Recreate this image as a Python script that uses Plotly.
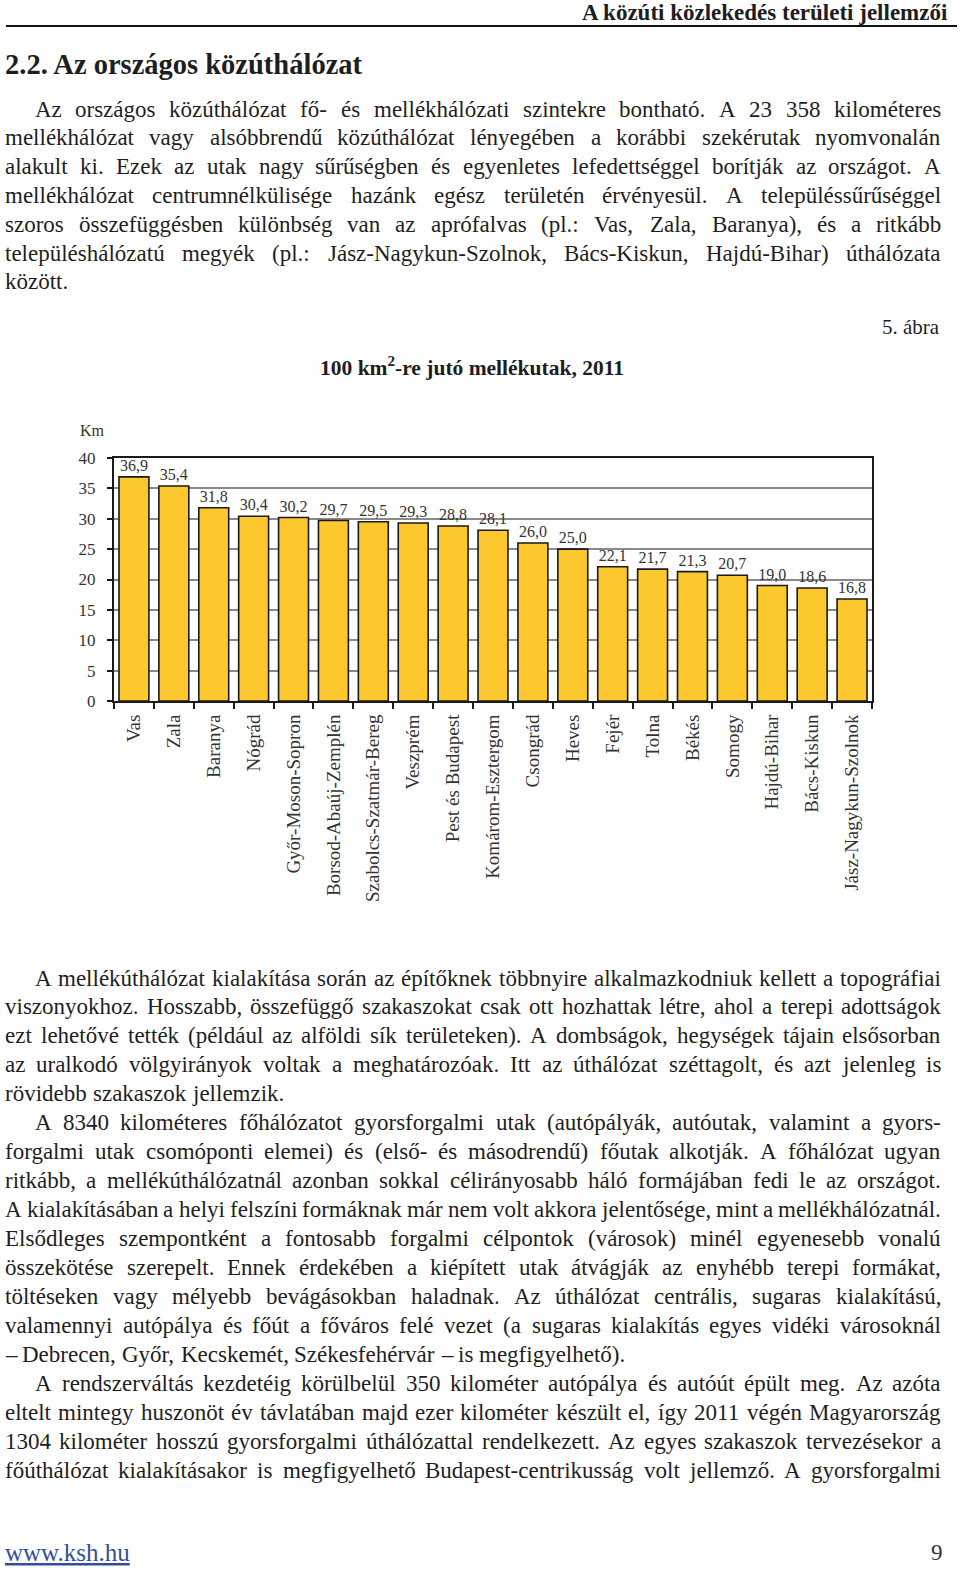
import statistics
import unicodedata
import plotly.graph_objects as go

PAGE_W, PAGE_H = 960, 1573

# ---------------- chart data ----------------
categories = ["Vas", "Zala", "Baranya", "Nógrád", "Győr-Moson-Sopron",
              "Borsod-Abaúj-Zemplén", "Szabolcs-Szatmár-Bereg", "Veszprém",
              "Pest és Budapest", "Komárom-Esztergom", "Csongrád", "Heves",
              "Fejér", "Tolna", "Békés", "Somogy", "Hajdú-Bihar",
              "Bács-Kiskun", "Jász-Nagykun-Szolnok"]
values = [36.9, 35.4, 31.8, 30.4, 30.2, 29.7, 29.5, 29.3, 28.8, 28.1,
          26.0, 25.0, 22.1, 21.7, 21.3, 20.7, 19.0, 18.6, 16.8]
y_ticks = [0, 5, 10, 15, 20, 25, 30, 35, 40]

# ---------------- page texts ----------------
header_text = "A közúti közlekedés területi jellemzői"
section_title = "2.2. Az országos közúthálózat"
figure_label = "5. ábra"
chart_title = "100 km<sup>2</sup>-re jutó mellékutak, 2011"
unit_label = "Km"
footer_link = "www.ksh.hu"
page_number = "9"

# (text, indented, justified)
para_top = [
    ("Az országos közúthálózat fő- és mellékhálózati szintekre bontható. A 23 358 kilométeres", True, True),
    ("mellékhálózat vagy alsóbbrendű közúthálózat lényegében a korábbi szekérutak nyomvonalán", False, True),
    ("alakult ki. Ezek az utak nagy sűrűségben és egyenletes lefedettséggel borítják az országot. A", False, True),
    ("mellékhálózat centrumnélkülisége hazánk egész területén érvényesül. A településsűrűséggel", False, True),
    ("szoros összefüggésben különbség van az aprófalvas (pl.: Vas, Zala, Baranya), és a ritkább", False, True),
    ("településhálózatú megyék (pl.: Jász-Nagykun-Szolnok, Bács-Kiskun, Hajdú-Bihar) úthálózata", False, True),
    ("között.", False, False),
]
para_bottom = [
    ("A mellékúthálózat kialakítása során az építőknek többnyire alkalmazkodniuk kellett a topográfiai", True, True),
    ("viszonyokhoz. Hosszabb, összefüggő szakaszokat csak ott hozhattak létre, ahol a terepi adottságok", False, True),
    ("ezt lehetővé tették (például az alföldi sík területeken). A dombságok, hegységek tájain elsősorban", False, True),
    ("az uralkodó völgyirányok voltak a meghatározóak. Itt az úthálózat széttagolt, és azt jelenleg is", False, True),
    ("rövidebb szakaszok jellemzik.", False, False),
    ("A 8340 kilométeres főhálózatot gyorsforgalmi utak (autópályák, autóutak, valamint a gyors-", True, True),
    ("forgalmi utak csomóponti elemei) és (első- és másodrendű) főutak alkotják. A főhálózat ugyan", False, True),
    ("ritkább, a mellékúthálózatnál azonban sokkal célirányosabb háló formájában fedi le az országot.", False, True),
    ("A kialakításában a helyi felszíni formáknak már nem volt akkora jelentősége, mint a mellékhálózatnál.", False, True),
    ("Elsődleges szempontként a fontosabb forgalmi célpontok (városok) minél egyenesebb vonalú", False, True),
    ("összekötése szerepelt. Ennek érdekében a kiépített utak átvágják az enyhébb terepi formákat,", False, True),
    ("töltéseken vagy mélyebb bevágásokban haladnak. Az úthálózat centrális, sugaras kialakítású,", False, True),
    ("valamennyi autópálya és főút a főváros felé vezet (a sugaras kialakítás egyes vidéki városoknál", False, True),
    ("– Debrecen, Győr, Kecskemét, Székesfehérvár – is megfigyelhető).", False, False),
    ("A rendszerváltás kezdetéig körülbelül 350 kilométer autópálya és autóút épült meg. Az azóta", True, True),
    ("eltelt mintegy huszonöt év távlatában majd ezer kilométer készült el, így 2011 végén Magyarország", False, True),
    ("1304 kilométer hosszú gyorsforgalmi úthálózattal rendelkezett. Az egyes szakaszok tervezésekor a", False, True),
    ("főúthálózat kialakításakor is megfigyelhető Budapest-centrikusság volt jellemző. A gyorsforgalmi", False, True),
]

# ---------------- helpers ----------------
SERIF = "Liberation Serif"
TXT = "#1e1e1e"

_W = {' ': 250, '(': 333, ')': 333, ',': 250, '-': 333, '.': 250, ':': 278,
      ';': 278, '–': 500, '²': 300}
for c in "0123456789":
    _W[c] = 500
_W.update(dict(zip("ABCDEFGHIJKLMNOPQRSTUVWXYZ",
                   [722, 667, 667, 722, 611, 556, 722, 722, 333, 389, 722, 611, 889,
                    722, 722, 556, 722, 667, 556, 611, 722, 722, 944, 722, 722, 611])))
_W.update(dict(zip("abcdefghijklmnopqrstuvwxyz",
                   [444, 500, 444, 500, 444, 333, 500, 500, 278, 278, 500, 278, 778,
                    500, 500, 500, 500, 333, 389, 278, 500, 500, 722, 500, 500, 444])))


def units(s):
    t = 0
    for ch in s:
        b = unicodedata.normalize("NFD", ch)[0]
        t += _W.get(b, 500)
    return t / 1000.0


def px(x):
    return x / PAGE_W


def py(y):
    return 1 - y / PAGE_H


annotations = []


def add_text(text, x, y, size, xanchor="left", color=TXT, bold=False,
             yanchor="middle"):
    annotations.append(dict(
        text=text, x=px(x), y=py(y), xref="paper", yref="paper",
        xanchor=xanchor, yanchor=yanchor, showarrow=False,
        borderpad=0, borderwidth=0,
        font=dict(family=SERIF, size=size, color=color,
                  weight="bold" if bold else "normal")))


LEFT, RIGHT, INDENT = 5, 941, 35


def fit_size(line, indent, space):
    words = line.split(" ")
    avail = RIGHT - (INDENT if indent else LEFT)
    return avail / (sum(units(w) for w in words) + space * (len(words) - 1))


_fits = [fit_size(t, ind, 0.26) for t, ind, j in para_top + para_bottom if j]
FS = min(23.0, statistics.median(_fits))


def layout_paragraph(lines, y0, pitch):
    for i, (line, indent, justify) in enumerate(lines):
        y = y0 + i * pitch
        x0 = INDENT if indent else LEFT
        words = line.split(" ")
        wu = [units(w) for w in words]
        avail = RIGHT - x0
        fs = FS
        if justify and len(words) > 1:
            fs = min(FS, fit_size(line, indent, 0.17))
            gap = (avail - sum(wu) * fs) / (len(words) - 1)
        else:
            gap = 0.25 * fs
        x = x0
        for j, w in enumerate(words):
            if justify and j == len(words) - 1 and len(words) > 1:
                add_text(w, RIGHT, y, fs, xanchor="right")
            else:
                add_text(w, x, y, fs)
            x += wu[j] * fs + gap


layout_paragraph(para_top, 109, 28.8)
layout_paragraph(para_bottom, 978, 28.95)

add_text(header_text, 948, 0, 23, xanchor="right", bold=True, yanchor="top")
add_text(section_title, 5, 65, 28.5, bold=True)
add_text(figure_label, 940, 327, 21, xanchor="right")
annotations.append(dict(
    text=chart_title, x=px(472), y=py(366), xref="paper", yref="paper",
    xanchor="center", yanchor="middle", showarrow=False,
    font=dict(family=SERIF, size=21.5, color=TXT, weight="bold")))
add_text(unit_label, 80, 430, 16, color="#333333")
add_text("<u>" + footer_link + "</u>", 5, 1552, 25, color="#2f4f9e")
add_text(page_number, 943, 1552, 23, xanchor="right", color="#333333")

# ---------------- figure ----------------
labels = [f"{v:.1f}".replace(".", ",") for v in values]

fig = go.Figure(go.Bar(
    x=categories, y=values, text=labels, textposition="outside",
    textfont=dict(family=SERIF, size=16, color="#333333"),
    constraintext="none", cliponaxis=False,
    marker=dict(color="#FCC82E", line=dict(color="#1a1a1a", width=1.6)),
    hoverinfo="skip"))

fig.update_layout(
    width=PAGE_W, height=PAGE_H,
    margin=dict(l=0, r=0, t=0, b=0, pad=0, autoexpand=False),
    paper_bgcolor="white", plot_bgcolor="white",
    showlegend=False, bargap=0.25,
    annotations=annotations,
    shapes=[dict(type="line", xref="paper", yref="paper",
                 x0=px(6), x1=px(957), y0=py(26), y1=py(26),
                 line=dict(color="#111111", width=2))],
    xaxis=dict(domain=[px(114), px(872)], showgrid=False, automargin=False,
               showline=True, linecolor="#1a1a1a", linewidth=2, mirror=True,
               ticks="outside", tickson="boundaries", ticklen=6, tickwidth=2,
               tickcolor="#1a1a1a", tickangle=-90,
               tickfont=dict(family=SERIF, size=19, color="#333333"),
               ticklabelstandoff=4),
    yaxis=dict(domain=[py(701), py(458)], range=[0, 40], tickvals=y_ticks,
               automargin=False,
               showgrid=True, gridcolor="#8a8a8a", gridwidth=2,
               showline=True, linecolor="#1a1a1a", linewidth=2, mirror=True,
               ticks="outside", ticklen=5, tickwidth=2, tickcolor="#1a1a1a",
               tickfont=dict(family=SERIF, size=17, color="#333333"),
               ticklabelstandoff=8, zeroline=False),
)

fig.write_html(
    "out.html",
    config={"displayModeBar": False},
    post_script="document.documentElement.style.margin='0';"
                "document.body.style.margin='0';"
                "document.body.style.overflow='hidden';")
